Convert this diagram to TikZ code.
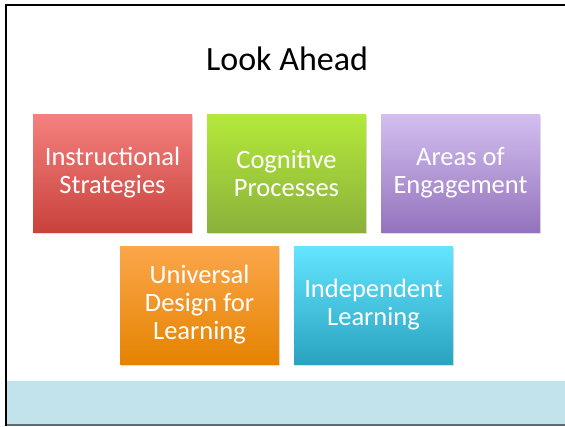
\documentclass[tikz,border=0pt]{standalone}
\usepackage{fontspec}
\setmainfont{Carlito}
\usetikzlibrary{shadows}
\definecolor{redtop}{HTML}{F4817E}
\definecolor{redbot}{HTML}{C9423C}
\definecolor{greentop}{HTML}{B3E93A}
\definecolor{greenbot}{HTML}{8BB13B}
\definecolor{violettop}{HTML}{D3BFEF}
\definecolor{violetbot}{HTML}{9473BD}
\definecolor{orangetop}{HTML}{FBA64B}
\definecolor{orangebot}{HTML}{E58300}
\definecolor{cyantop}{HTML}{64E5FF}
\definecolor{cyanbot}{HTML}{29A3C0}
\definecolor{footer}{HTML}{C2E3EB}
\definecolor{footerline}{HTML}{5B6D72}
\tikzset{
 topic/.style={minimum width=159pt,minimum height=118pt,inner sep=0pt,align=center,
  text=white,font=\fontsize{26.5}{28}\selectfont,shading=axis,
  drop shadow={shadow xshift=1pt,shadow yshift=-1.5pt,opacity=0.25}},
 redtopic/.style={topic,top color=redtop,bottom color=redbot},
 greentopic/.style={topic,top color=greentop,bottom color=greenbot},
 violettopic/.style={topic,top color=violettop,bottom color=violetbot},
 orangetopic/.style={topic,top color=orangetop,bottom color=orangebot},
 cyantopic/.style={topic,top color=cyantop,bottom color=cyanbot}
}
\begin{document}
\begin{tikzpicture}[x=1pt,y=-1pt]
 \useasboundingbox[fill=white] (0,0) rectangle (565,426);
 % footer band
 \fill[footer] (6,380) rectangle (565,425);
 \draw[white!85!footer,line width=0.8pt] (6,380.5)--(565,380.5);
 \draw[footerline,line width=1.5pt] (6,425.2)--(565,425.2);
 % slide frame
 \draw[black,line width=2pt] (5.5,426)--(5.5,4.5)--(565,4.5);
 \node (title) at (287,59) {\fontsize{34}{40}\selectfont Look Ahead};
 \node[redtopic] (strategies) at (112.5,173) {Instructional\\Strategies};
 \node[greentopic] (processes) at (286.5,173) {Cognitive\\Processes};
 \node[violettopic] (engagement) at (460.5,173) {Areas of\\Engagement};
 \node[orangetopic] (udl) at (199.5,305) {Universal\\Design for\\Learning};
 \node[cyantopic] (independent) at (373.5,305) {Independent\\Learning};
\end{tikzpicture}
\end{document}
